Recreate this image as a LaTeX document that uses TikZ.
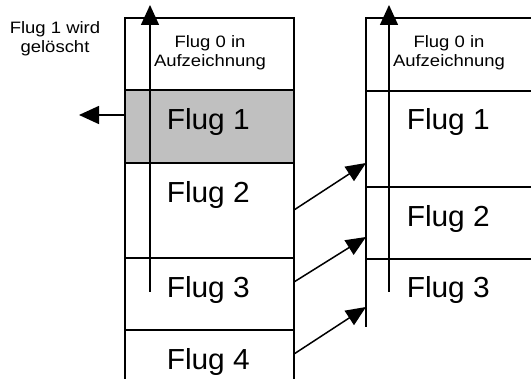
\documentclass[tikz,border=0pt]{standalone}
\usepackage{fontspec}
\setmainfont{Liberation Sans}
\newfontfamily\smallf[FakeStretch=1.12]{Liberation Sans}
\newfontfamily\bigf[FakeStretch=1.03]{Liberation Sans}
\usetikzlibrary{arrows.meta}
\begin{document}
\begin{tikzpicture}[x=1pt,y=-1pt,line width=1.5pt,
  big/.style={font=\bigf\fontsize{29}{30}\selectfont,anchor=base west,inner sep=0pt},
  small/.style={font=\smallf\fontsize{16.5}{19.5}\selectfont,align=center,anchor=base,inner sep=0pt},
  tipv/.style={-{Triangle[length=20pt,width=18pt]}},
  tipd/.style={-{Triangle[length=20pt,width=17pt]}}]
\useasboundingbox (0,0) rectangle (531,379);
% left column
\fill[fill={rgb,255:red,192;green,192;blue,192}] (125,90) rectangle (294,163);
\draw (125,379) -- (125,18) -- (294,18) -- (294,379);
\foreach \yy in {90,163,258,330} \draw (125,\yy) -- (294,\yy);
% right column
\draw (531,18) -- (366,18) -- (366,327);
\foreach \yy in {91,187,259} \draw (366,\yy) -- (531,\yy);
% coordinates
\coordinate (Lb) at (150,292);
\coordinate (Lt) at (150,5);
\coordinate (Rb) at (389,292);
\coordinate (Rt) at (389,5);
\coordinate (del) at (125,115);
\coordinate (delend) at (79,115);
\coordinate (s2) at (294,210);
\coordinate (s3) at (294,282);
\coordinate (s4) at (294,354);
\coordinate (t1) at (366,163);
\coordinate (t2) at (366,237);
\coordinate (t3) at (366,307);
% arrows
\draw[tipv] (Lb) -- (Lt);
\draw[tipv] (Rb) -- (Rt);
\draw[tipv] (del) -- (delend);
\draw[tipd] (s2) -- (t1);
\draw[tipd] (s3) -- (t2);
\draw[tipd] (s4) -- (t3);
% texts
\node[small] (geloescht) at (55,53) {Flug 1 wird\\gelöscht};
\node[small] (L0) at (210,67) {Flug 0 in\\Aufzeichnung};
\node[small] (R0) at (449,67) {Flug 0 in\\Aufzeichnung};
\node[big] (L1) at (166,130) {Flug 1};
\node[big] (L2) at (166,203) {Flug 2};
\node[big] (L3) at (166,298) {Flug 3};
\node[big] (L4) at (166,370) {Flug 4};
\node[big] (R1) at (406,130) {Flug 1};
\node[big] (R2) at (406,227) {Flug 2};
\node[big] (R3) at (406,298) {Flug 3};
\end{tikzpicture}
\end{document}
